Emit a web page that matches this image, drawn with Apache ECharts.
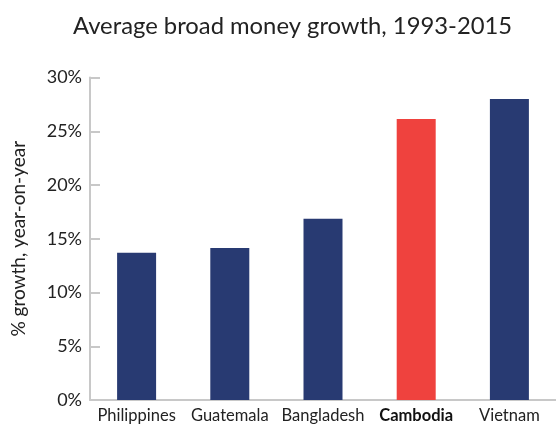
<!DOCTYPE html>
<html>
<head>
<meta charset="utf-8">
<script src="https://cdn.jsdelivr.net/npm/echarts@6/dist/echarts.min.js"></script>
<style>html,body{margin:0;padding:0;background:#fff;}#c{width:556px;height:425px;}</style>
</head>
<body>
<div id="c"></div>
<script>
const categories = ['Philippines', 'Guatemala', 'Bangladesh', 'Cambodia', 'Vietnam'];
const values = [13.7, 14.15, 16.85, 26.15, 28.0];
const highlight = 'Cambodia';
const yTicks = [0, 5, 10, 15, 20, 25, 30];

const navy = '#283A72';
const red = '#EF423E';
const font = 'Lato';

const chart = echarts.init(document.getElementById('c'));
chart.setOption({
  animation: false,
  title: {
    text: 'Average broad money growth, 1993-2015',
    left: 68,
    top: 9,
    textStyle: { fontFamily: font, fontSize: 23.8, fontWeight: 'normal', color: '#222' }
  },
  grid: { left: 90, top: 77.5, bottom: 25, width: 471, containLabel: false },
  xAxis: {
    type: 'category',
    data: categories,
    axisLine: { lineStyle: { color: '#c8c8c8', width: 2 } },
    axisTick: { inside: true, length: 6, lineStyle: { color: '#c8c8c8', width: 2 } },
    axisLabel: {
      interval: 0,
      hideOverlap: false,
      fontFamily: font, fontSize: 16.5, color: '#222', margin: 7,
      formatter: function (v) { return v === highlight ? '{b|' + v + '}' : v; },
      rich: { b: { fontFamily: font, fontSize: 16.5, fontWeight: 'bold', color: '#111' } }
    }
  },
  yAxis: {
    type: 'value',
    min: yTicks[0],
    max: yTicks[yTicks.length - 1],
    interval: 5,
    name: '% growth, year-on-year',
    nameLocation: 'middle',
    nameGap: 62,
    nameTextStyle: { fontFamily: font, fontSize: 19, color: '#222' },
    axisLine: { show: true, lineStyle: { color: '#c8c8c8', width: 2 } },
    axisTick: { show: true, inside: true, length: 10, lineStyle: { color: '#c8c8c8', width: 2 } },
    splitLine: { show: false },
    axisLabel: { fontFamily: font, fontSize: 18, color: '#222', margin: 8, formatter: '{value}%' }
  },
  series: [{
    type: 'bar',
    barWidth: 39,
    data: values.map((v, i) => ({
      value: v,
      itemStyle: { color: categories[i] === highlight ? red : navy }
    }))
  }]
});
</script>
</body>
</html>
